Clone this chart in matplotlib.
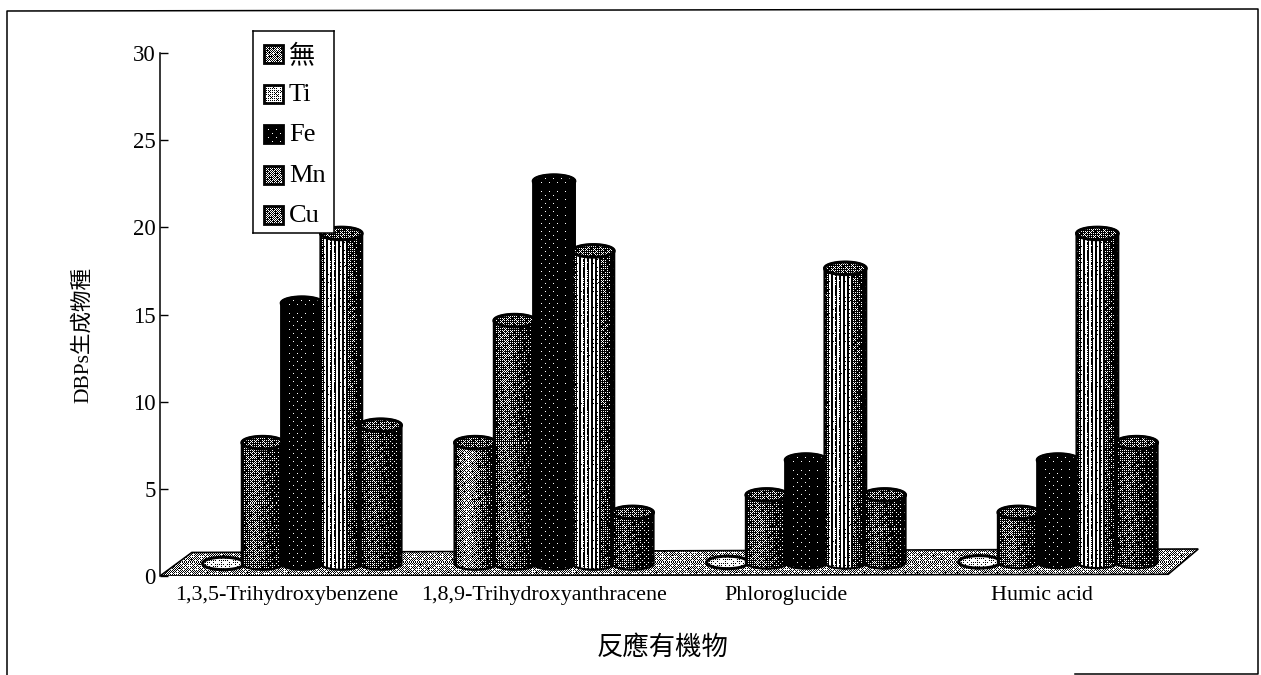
import numpy as np
import matplotlib
matplotlib.use('Agg')
import matplotlib.pyplot as plt
from matplotlib.lines import Line2D
from matplotlib.patches import Polygon, Rectangle

plt.rcParams['font.family'] = ['Liberation Serif', 'Noto Sans CJK TC']

categories = ['1,3,5-Trihydroxybenzene', '1,8,9-Trihydroxyanthracene', 'Phloroglucide', 'Humic acid']
metals = ['無', 'Ti', 'Fe', 'Mn', 'Cu']
none_vals = [0, 7.5, 0, 0]
ti_vals = [7.5, 14.5, 4.5, 3.5]
fe_vals = [15.5, 22.5, 6.5, 6.5]
mn_vals = [19.5, 18.5, 17.5, 19.5]
cu_vals = [8.5, 3.5, 4.5, 7.5]
series = [none_vals, ti_vals, fe_vals, mn_vals, cu_vals]
yticks = [0, 5, 10, 15, 20, 25, 30]

# brightness across a cylinder, left edge to right edge
shade_u = [0, 0.08, 0.3, 0.6, 0.88, 1]
shades = [
    [0.05, 0.4, 0.62, 0.32, 0.1, 0.02],
    [0.05, 0.26, 0.38, 0.2, 0.08, 0.02],
    [0.01, 0.02, 0.03, 0.02, 0.01, 0.0],
    [0.05, 0.4, 0.7, 0.36, 0.12, 0.02],
    [0.05, 0.2, 0.3, 0.16, 0.06, 0.02],
]
swatch_levels = [0.45, 0.72, 0.03, 0.42, 0.42]
# category labels sit a little left of their groups, by this many pixels
label_shift = [-15, -10, -20, -16]

W, H = 1261, 675
PX_X = 252
PX_Y = 523 / 30
BAR_W = 0.156
BAR_RY = 0.36
BASE_Y = 0.72

BAYER = np.array([[0, 32, 8, 40, 2, 34, 10, 42],
                  [48, 16, 56, 24, 50, 18, 58, 26],
                  [12, 44, 4, 36, 14, 46, 6, 38],
                  [60, 28, 52, 20, 62, 30, 54, 22],
                  [3, 35, 11, 43, 1, 33, 9, 41],
                  [51, 19, 59, 27, 49, 17, 57, 25],
                  [15, 47, 7, 39, 13, 45, 5, 37],
                  [63, 31, 55, 23, 61, 29, 53, 21]]) / 64 + 1 / 128


def dither(level):
    # ordered dither to pure black and white, like a photocopied halftone
    rows, cols = level.shape
    thresh = np.tile(BAYER, (rows // 8 + 1, cols // 8 + 1))[:rows, :cols]
    yy, xx = np.mgrid[:rows, :cols]
    # slow interference ripple so the halftone looks less mechanical
    ripple = 0.14 * np.sin(xx * 0.71 + yy * 0.31) * np.sin(yy * 0.53 - xx * 0.23)
    return (level + ripple * (level > 0.1) > thresh).astype(float)


def fill_image(ax, patch, level, extent):
    im = ax.imshow(dither(level), cmap='gray', vmin=0, vmax=1, extent=extent,
                   interpolation='nearest', aspect='auto', zorder=patch.get_zorder())
    ax.add_patch(patch)
    im.set_clip_path(patch)
    patch.set_zorder(patch.get_zorder() + 0.01)


def ellipse_points(xc, yc, rx, ry, start, stop):
    t = np.linspace(start, stop, 40)
    return np.column_stack([xc + rx * np.cos(t), yc + ry * np.sin(t)])


def draw_cylinder(ax, xc, value, base, slot, z):
    rx = BAR_W * 0.53
    top = value + 0.15
    cols = int(round(2 * rx * PX_X))
    cap_rows = int(round(2 * BAR_RY * PX_Y))
    if value > 0:
        body = np.vstack([ellipse_points(xc, base, rx, BAR_RY, np.pi, 2 * np.pi),
                          ellipse_points(xc, top, rx, BAR_RY, 0, np.pi)])
        rows = int(round((top - base + 2 * BAR_RY) * PX_Y))
        prof = np.interp(np.linspace(0, 1, cols), shade_u, shades[slot])
        level = np.tile(prof, (rows, 1))
        if slot == 3:
            # ribbed highlight on the Mn bars
            level = level + np.where(np.arange(cols) % 4 < 2, 0.5, -0.5) * (prof > 0.3)
        fill_image(ax, Polygon(body, closed=True, fc='none', ec='black', lw=1.6, zorder=z),
                   level, (xc - rx, xc + rx, base - BAR_RY, top + BAR_RY))
    # top face, flat on the floor when the value is zero
    cap_y = top if value > 0 else base
    cap = Polygon(ellipse_points(xc, cap_y, rx, BAR_RY, 0, 2 * np.pi), closed=True,
                  fc='none', ec='black', lw=2.2, zorder=z + 0.1)
    cap_level = np.full((cap_rows, cols), 0.85 if value == 0 else (0.03 if slot == 2 else 0.3))
    fill_image(ax, cap, cap_level, (xc - rx, xc + rx, cap_y - BAR_RY, cap_y + BAR_RY))


fig = plt.figure(figsize=(W / 100, H / 100), dpi=100)
ax = fig.add_axes([160 / W, 1 - 576 / H, 1075 / W, 523 / H])
ax.patch.set_alpha(0)

# scanned page frame
frame_x = [7, 7, 1258, 1258, 1075]
frame_y = [675, 11, 9, 674, 674]
fig.add_artist(Line2D(np.array(frame_x) / W, 1 - np.array(frame_y) / H, color='black', lw=1.1))

# floor of the 3D plot
floor_pts = [(-0.5635, 0.0), (-0.437, 1.35), (3.556, 1.55), (3.437, 0.1)]
floor = Polygon(floor_pts, closed=True, fc='none', ec='black', lw=1.2, zorder=1)
floor_ext = (-0.57, 3.56, 0, 1.6)
fill_image(ax, floor, np.full((int(1.6 * PX_Y), int(4.13 * PX_X)), 0.58), floor_ext)

for g in range(len(categories)):
    for s, vals in enumerate(series):
        draw_cylinder(ax, g + (s - 2) * BAR_W, vals[g], BASE_Y + 0.03 * g * (g > 1), s, 2 + s)

ax.set_xlim(-0.5635, 3.702)
ax.set_ylim(0, 30)
ax.set_yticks(yticks)
ax.tick_params(axis='y', direction='in', length=6, width=1, labelsize=16.5, pad=3)
ax.set_xticks(np.arange(len(categories)) + np.array(label_shift) / PX_X)
ax.set_xticklabels(categories, fontsize=15.8)
ax.tick_params(axis='x', length=0, pad=7)
for side in ['top', 'right', 'bottom']:
    ax.spines[side].set_visible(False)
ax.spines['left'].set_linewidth(1.1)

ax.set_xlabel('反應有機物', fontsize=19, va='center')
ax.xaxis.set_label_coords((663 - 160) / 1075, 1 - (647 - 53) / 523)
ax.set_ylabel('DBPs生成物種', fontsize=15.5, va='center')
ax.yaxis.set_label_coords((83 - 160) / 1075, (576 - 335) / 523)

# legend panel
leg = fig.add_axes([253 / W, 1 - 233 / H, 81 / W, 202 / H], zorder=5)
leg.set_xticks([])
leg.set_yticks([])
for sp in leg.spines.values():
    sp.set_linewidth(1.1)
for i, name in enumerate(metals):
    yc = 54 + i * 40.2
    swatch = Rectangle((264, yc - 9), 19, 18, fc='none', ec='black', lw=2, zorder=2)
    fill_image(leg, swatch, np.full((18, 19), swatch_levels[i]), (264, 283, yc + 9, yc - 9))
    leg.text(289, yc + (3 if i == 0 else 1), name, fontsize=19, va='center', ha='left')
leg.set_xlim(253, 334)
leg.set_ylim(233, 31)

fig.savefig('out.png', dpi=100)
